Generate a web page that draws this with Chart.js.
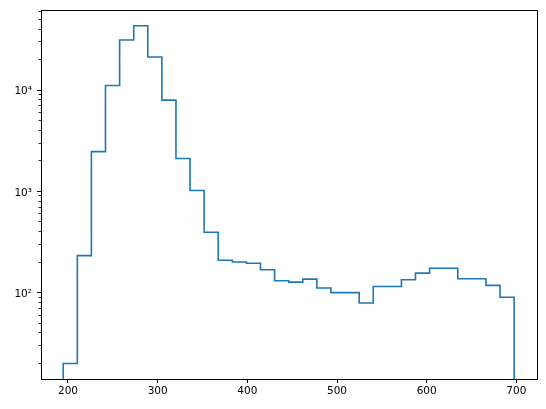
<!DOCTYPE html>
<html>
<head>
<meta charset="utf-8">
<script src="https://cdn.jsdelivr.net/npm/chart.js@4/dist/chart.umd.min.js"></script>
<style>
  html, body { margin: 0; padding: 0; background: #fff; }
  #wrap { width: 546px; height: 409px; }
</style>
</head>
<body>
<div id="wrap"><canvas id="chart" width="546" height="409"></canvas></div>
<script>
// bin edges (33) and counts (32)
const binEdges = [
  194.7, 210.4, 226.1, 241.8, 257.6, 273.3, 289.0, 304.7, 320.4, 336.1, 351.8,
  367.5, 383.3, 399.0, 414.7, 430.4, 446.1, 461.8, 477.5, 493.2, 509.0,
  524.7, 540.4, 556.1, 571.8, 587.5, 603.2, 619.0, 634.7, 650.4, 666.1,
  681.8, 697.5
];
const binCounts = [
  20, 232, 2470, 11100, 31200, 43150, 21200, 7960, 2110, 1018,
  395, 209, 201, 195, 168, 131, 127, 136, 111, 100,
  100, 79, 115, 115, 134, 156, 174, 174, 137, 137,
  118, 90
];

const xTicks = [200, 300, 400, 500, 600, 700];
const yMajorTicks = [100, 1000, 10000];
const yMajorLabels = ["10²", "10³", "10⁴"];
const yDecades = [10, 100, 1000, 10000];
const yMinorSteps = [2, 3, 4, 5, 6, 7, 8, 9];

const xMin = 169.9, xMax = 723;
const yMin = 14.04, yMax = 61740;

const yMinorTicks = [];
for (const d of yDecades) {
  for (const s of yMinorSteps) {
    const v = d * s;
    if (v > yMin && v < yMax) yMinorTicks.push(v);
  }
}

// step outline: up from baseline at first edge, across each bin, down at last edge
const points = [{ x: binEdges[0], y: yMin }];
binCounts.forEach((c, i) => points.push({ x: binEdges[i], y: c }));
points.push({ x: binEdges[binEdges.length - 1], y: yMin });

const font = { family: "'DejaVu Sans', sans-serif", size: 10.5 };

const frame = {
  id: "frame",
  afterDraw(c) {
    const a = c.chartArea;
    const ctx = c.ctx;
    ctx.save();
    ctx.strokeStyle = "#000";
    ctx.lineWidth = 1;
    ctx.beginPath();
    ctx.moveTo(Math.round(a.left) + 0.5, Math.round(a.top) + 0.5);
    ctx.lineTo(Math.round(a.right) + 0.5, Math.round(a.top) + 0.5);
    ctx.lineTo(Math.round(a.right) + 0.5, Math.round(a.bottom) + 0.5);
    ctx.stroke();
    ctx.restore();
  }
};

function noPad(scale) {
  scale.paddingTop = 0;
  scale.paddingBottom = 0;
  scale.paddingLeft = 0;
  scale.paddingRight = 0;
}

new Chart(document.getElementById("chart"), {
  type: "line",
  data: {
    datasets: [
      {
        data: points,
        borderColor: "#1f77b4",
        borderWidth: 1.6,
        stepped: true,
        pointRadius: 0,
        fill: false,
        tension: 0
      }
    ]
  },
  options: {
    responsive: false,
    animation: false,
    events: [],
    layout: { padding: { top: 10, right: 9, left: 0, bottom: 0 } },
    plugins: { legend: { display: false }, tooltip: { enabled: false } },
    scales: {
      x: {
        type: "linear",
        min: xMin,
        max: xMax,
        afterBuildTicks: (s) => { s.ticks = xTicks.map((v) => ({ value: v })); },
        afterFit: (s) => { s.height = 30; noPad(s); },
        grid: { drawOnChartArea: false, tickLength: 4, tickColor: "#000", tickWidth: 1 },
        border: { color: "#000", width: 1 },
        ticks: { color: "#000", font, padding: 2, maxRotation: 0 }
      },
      y: {
        type: "logarithmic",
        position: "left",
        weight: 1,
        min: yMin,
        max: yMax,
        afterBuildTicks: (s) => { s.ticks = yMajorTicks.map((v) => ({ value: v })); },
        afterFit: (s) => { s.width = 41; noPad(s); },
        grid: { drawOnChartArea: false, tickLength: 4, tickColor: "#000", tickWidth: 1 },
        border: { color: "#000", width: 1 },
        ticks: {
          color: "#000",
          font,
          padding: 5,
          labelOffset: 1.5,
          callback: (v) => {
            const i = yMajorTicks.indexOf(v);
            return i >= 0 ? yMajorLabels[i] : "";
          }
        }
      },
      yMinor: {
        type: "logarithmic",
        position: "left",
        weight: 0,
        min: yMin,
        max: yMax,
        afterBuildTicks: (s) => { s.ticks = yMinorTicks.map((v) => ({ value: v })); },
        afterFit: (s) => { s.width = 0; noPad(s); },
        grid: { drawOnChartArea: false, tickLength: 2.5, tickColor: "#000", tickWidth: 0.8 },
        border: { display: false },
        ticks: { display: false }
      }
    }
  },
  plugins: [frame]
});
</script>
</body>
</html>
